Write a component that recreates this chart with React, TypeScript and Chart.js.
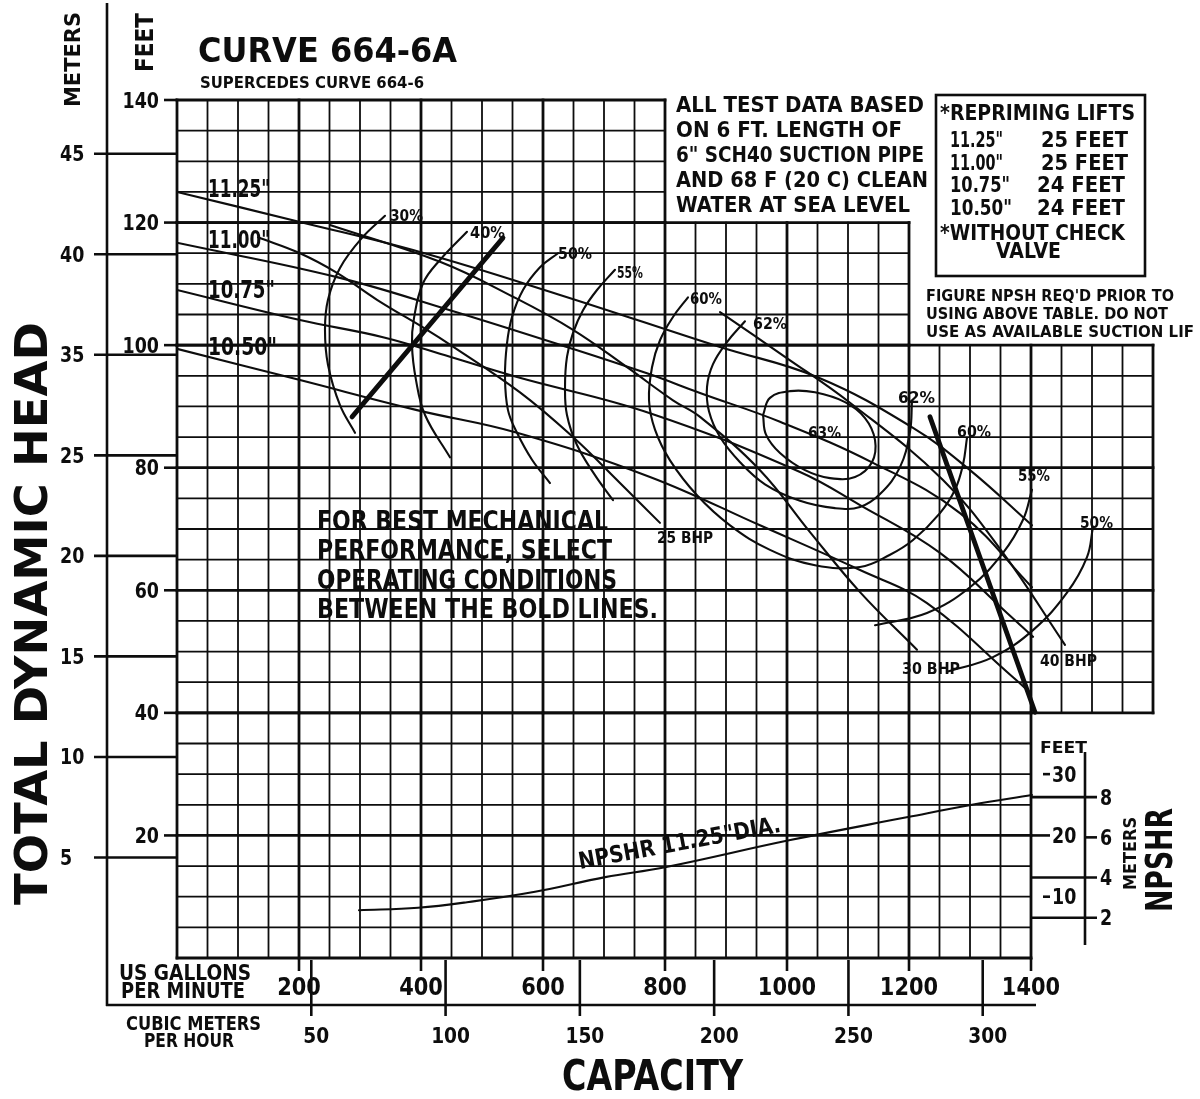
import React, { useEffect, useRef } from "react";
import { Chart, registerables } from "chart.js";

Chart.register(...registerables);

// ---------- axis ticks ----------
const gpmTicks = [200, 400, 600, 800, 1000, 1200, 1400];
const cmhTicks = [50, 100, 150, 200, 250, 300];
const feetTicks = [140, 120, 100, 80, 60, 40, 20];
const meterTickValues = [40, 35, 30, 25, 20, 15, 10, 5];
const meterTickLabels = ["45", "40", "35", "25", "20", "15", "10", "5"];
const npshFeetTicks = [30, 20, 10];
const npshMeterTicks = [8, 6, 4, 2];

// ---------- head curves [GPM, feet] ----------
const head1125: [number, number][] = [[0, 125.0], [201.6, 120.1], [398.4, 115.2], [627.9, 108.2], [890.2, 99.7], [1049.2, 94.8], [1206.6, 86.5], [1300, 79.6], [1401.6, 70.6]];
const head1100: [number, number][] = [[0, 116.7], [262.3, 111.1], [447.5, 105.7], [639.3, 99.7], [770.5, 95.4], [857.4, 92.2], [988.5, 87.5], [1141, 80.8], [1283.6, 72.6], [1401.6, 60.5]];
const head1075: [number, number][] = [[0, 109.0], [201.6, 104.1], [337.7, 101.3], [447.5, 98.1], [557.4, 94.8], [775.4, 88.9], [1021.3, 79.3], [1119.7, 73.9], [1250.8, 66.1], [1360.7, 56.3], [1403.3, 52.4]];
const head1050: [number, number][] = [[0, 99.4], [201.6, 94.3], [393.4, 89.4], [557.4, 85.7], [775.4, 78.5], [955.7, 70.6], [1119.7, 63.3], [1229.5, 57.9], [1370.5, 45.8], [1400, 43.2]];

// ---------- BHP lines ----------
const bhp25: [number, number][] = [[132.8, 117.6], [201.6, 115.0], [262.3, 111.8], [327.9, 107.4], [409.8, 102.5], [447.5, 100.1], [562.3, 92.3], [649.2, 85.0], [726.2, 77.5], [791.8, 71.0]];
const bhp30: [number, number][] = [[250.8, 119.6], [431.1, 113.6], [550.8, 107.9], [649.2, 102.5], [737.7, 96.4], [813.1, 91.0], [857.4, 88.3], [955.7, 79.6], [1037.7, 69.5], [1119.7, 59.7], [1213.1, 50.3]];
const bhp40: [number, number][] = [[890.2, 105.4], [996.7, 98.1], [1103.3, 90.6], [1255.7, 78.0], [1354.1, 66.1], [1455.7, 51.1]];

// ---------- efficiency curves ----------
const eff30: [number, number][] = [[341.0, 121.1], [303.3, 117.5], [267.2, 112.6], [247.5, 107.4], [242.6, 102.5], [247.5, 96.8], [267.2, 90.2], [291.8, 85.7]];
const eff40: [number, number][] = [[475.4, 118.5], [431.1, 113.9], [403.3, 110.1], [388.5, 104.4], [385.2, 100.0], [391.8, 94.3], [406.6, 88.6], [447.5, 81.7]];
const eff50: [number, number][] = [[624.6, 115.0], [595.1, 112.7], [567.2, 109.0], [549.2, 104.6], [541.0, 100.3], [537.7, 94.8], [542.6, 89.4], [557.4, 85.7], [582.0, 81.3], [611.5, 77.5]];
const eff55: [number, number][] = [[718.0, 112.3], [688.5, 109.0], [665.6, 105.7], [649.2, 102.0], [639.3, 98.1], [636.1, 93.2], [639.3, 88.6], [655.7, 83.7], [685.2, 78.8], [714.8, 74.7]];
const eff60: [number, number][] = [[837.7, 107.8], [813.1, 104.6], [791.8, 100.8], [778.7, 96.4], [773.8, 91.0], [783.6, 86.2], [808.2, 81.2], [852.5, 75.5], [906.6, 70.6], [972.1, 66.6], [1045.9, 64.1], [1119.7, 63.8], [1168.9, 65.8], [1206.6, 68.2], [1250.8, 72.6], [1275.4, 76.4], [1288.5, 80.5], [1295.1, 84.9]];
const eff62: [number, number][] = [[931.1, 103.9], [901.6, 100.5], [878.7, 96.9], [868.9, 93.2], [872.1, 89.2], [890.2, 85.0], [923.0, 80.9], [963.9, 77.3], [1021.3, 74.6], [1078.7, 73.4], [1119.7, 73.6], [1152.5, 75.7], [1185.2, 80.1], [1201.6, 85.9], [1204.9, 90.8]];
const eff63: [number, number][] = [[960.7, 88.6], [972.1, 91.4], [1004.9, 92.5], [1045.9, 92.3], [1095.1, 90.7], [1127.9, 88.1], [1144.3, 84.5], [1139.3, 80.9], [1111.5, 78.5], [1070.5, 78.3], [1029.5, 79.6], [988.5, 82.4], [965.6, 85.4], [960.7, 88.6]];
const eff55Right: [number, number][] = [[1144.3, 54.3], [1229.5, 56.3], [1300.0, 60.5], [1354.1, 66.1], [1386.9, 71.5], [1401.6, 76.4]];
const eff50Right: [number, number][] = [[1262.3, 46.7], [1337.7, 49.1], [1403.3, 53.5], [1459.0, 59.6], [1491.8, 65.4], [1501.6, 70.3]];

// ---------- bold operating limits ----------
const boldLeft: [number, number][] = [[286.9, 88.3], [534.4, 117.5]];
const boldRight: [number, number][] = [[1234.4, 88.3], [1406.6, 40.1]];

// ---------- NPSHR ----------
const npshr1125: [number, number][] = [[298.4, 7.8], [395.1, 8.2], [475.4, 9.1], [586.9, 10.8], [702, 13.2], [800, 14.8], [1003.3, 19.2], [1198.4, 23.0], [1303.3, 25.0], [1401.6, 26.6]];

// ---------- texts ----------
const noteLines = ["ALL TEST DATA BASED", "ON 6 FT. LENGTH OF", '6" SCH40 SUCTION PIPE', "AND 68 F (20 C) CLEAN", "WATER AT SEA LEVEL"];
const liftDia = ['11.25"', '11.00"', '10.75"', '10.50"'];
const liftFeet = ["25 FEET", "25 FEET", "24 FEET", "24 FEET"];
const npshNote = ["FIGURE NPSH REQ'D PRIOR TO", "USING ABOVE TABLE. DO NOT", "USE AS AVAILABLE SUCTION LIF"];
const bestNote = ["FOR BEST MECHANICAL", "PERFORMANCE, SELECT", "OPERATING CONDITIONS", "BETWEEN THE BOLD LINES."];

const FT_PER_M = 3.28084;
const GPM_PER_CMH = 4.40287;
const INK = "#0d0d0d";
const FONT = '"DejaVu Sans", "Liberation Sans", sans-serif';

function drawFit(ctx: CanvasRenderingContext2D, s: string, x: number, yb: number, w: number, cap: number, rot = 0, weight = "bold") {
  const size = cap / 0.73;
  ctx.font = `${weight} ${size}px ${FONT}`;
  const mw = ctx.measureText(s).width;
  ctx.save();
  ctx.translate(x, yb);
  if (rot) ctx.rotate(rot);
  ctx.scale(w / mw, 1);
  ctx.textAlign = "left";
  ctx.textBaseline = "alphabetic";
  ctx.fillStyle = INK;
  ctx.fillText(s, 0, 0);
  ctx.restore();
}

function drawNat(ctx: CanvasRenderingContext2D, s: string, x: number, yb: number, cap: number, align: string, sx = 0.85) {
  const size = cap / 0.73;
  ctx.font = `bold ${size}px ${FONT}`;
  const mw = ctx.measureText(s).width * sx;
  const x0 = align === "left" ? x : align === "right" ? x - mw : x - mw / 2;
  drawFit(ctx, s, x0, yb, mw, cap);
}

function seg(ctx: CanvasRenderingContext2D, x0: number, y0: number, x1: number, y1: number, w: number) {
  ctx.lineWidth = w;
  ctx.beginPath();
  ctx.moveTo(x0, y0);
  ctx.lineTo(x1, y1);
  ctx.stroke();
}

const decor = {
  id: "pumpDecor",
  beforeDraw(chart: any) {
    const ctx = chart.ctx;
    ctx.save();
    ctx.fillStyle = "#fff";
    ctx.fillRect(0, 0, chart.width, chart.height);
    ctx.restore();
  },
  beforeDatasetsDraw(chart: any) {
    const ctx: CanvasRenderingContext2D = chart.ctx;
    const xs = chart.scales.x, ys = chart.scales.y;
    const X = (v: number) => xs.getPixelForValue(v);
    const Y = (v: number) => ys.getPixelForValue(v);
    ctx.save();
    ctx.strokeStyle = INK;
    ctx.lineCap = "square";
    const regions = [[0, 800, 120, 140], [0, 1200, 100, 120], [0, 1600, 40, 100], [0, 1400, 0, 40]];
    for (const [x0, x1, y0, y1] of regions) {
      for (let g = x0; g <= x1; g += 50) seg(ctx, X(g), Y(y0), X(g), Y(y1), g % 200 === 0 ? 2.8 : 1.8);
      for (let h = y0; h <= y1; h += 5) seg(ctx, X(x0), Y(h), X(x1), Y(h), h % 20 === 0 ? 2.8 : 1.8);
    }
    ctx.lineCap = "butt";
    // outer frame (left axis line + bottom box line)
    seg(ctx, 107, 3, 107, 1006, 2.6);
    seg(ctx, 106, 1005, X(1400) + 5, 1005, 2.6);
    // meter ticks
    meterTickValues.forEach((m) => {
      const y = Y(m * FT_PER_M);
      seg(ctx, 94, y, X(0), y, 2.6);
    });
    // feet ticks
    feetTicks.forEach((f) => seg(ctx, 164, Y(f), X(0), Y(f), 2.6));
    // GPM ticks
    gpmTicks.forEach((g) => seg(ctx, X(g), Y(0), X(g), Y(0) + 13, 2.6));
    // m3/h ticks
    cmhTicks.forEach((c) => {
      const x = X(c * GPM_PER_CMH);
      seg(ctx, x, Y(0) + 2, x, 1016, 2.6);
    });
    // NPSHR axis
    const xr = X(1400);
    seg(ctx, 1085, 752, 1085, 945, 2.6);
    npshFeetTicks.forEach((f) => {
      const y = Y(f);
      seg(ctx, f === 20 ? xr : 1043, y, 1050, y, 2.6);
    });
    npshMeterTicks.forEach((m) => {
      const y = Y(m * FT_PER_M);
      seg(ctx, m === 6 ? 1085 : xr, y, 1097, y, 2.6);
    });
    // repriming box
    ctx.lineWidth = 2.6;
    ctx.strokeRect(936, 95, 209, 181);
    ctx.restore();
  },
  afterDatasetsDraw(chart: any) {
    const ctx: CanvasRenderingContext2D = chart.ctx;
    const xs = chart.scales.x, ys = chart.scales.y;
    const X = (v: number) => xs.getPixelForValue(v);
    const Y = (v: number) => ys.getPixelForValue(v);
    ctx.save();
    const up = -Math.PI / 2;
    // titles
    drawFit(ctx, "CURVE 664-6A", 198, 62, 259, 25);
    drawFit(ctx, "SUPERCEDES CURVE 664-6", 200, 88, 224, 12);
    drawFit(ctx, "METERS", 80, 107, 95, 15, up);
    drawFit(ctx, "FEET", 153, 72, 59, 18, up);
    drawFit(ctx, "TOTAL DYNAMIC HEAD", 47, 905, 583, 32, up);
    drawFit(ctx, "CAPACITY", 562, 1090, 181, 31);
    drawFit(ctx, "US GALLONS", 119, 980, 132, 15);
    drawFit(ctx, "PER MINUTE", 121, 998, 124, 15);
    drawFit(ctx, "CUBIC METERS", 126, 1030, 135, 14);
    drawFit(ctx, "PER HOUR", 144, 1047, 90, 14);
    // tick labels
    meterTickValues.forEach((m, i) => drawNat(ctx, meterTickLabels[i], 60, Y(m * FT_PER_M) + 7.5, 15, "left"));
    feetTicks.forEach((f) => drawNat(ctx, String(f), 159, Y(f) + 7.5, 15, "right"));
    gpmTicks.forEach((g) => drawNat(ctx, String(g), X(g), 995, 18, "center"));
    cmhTicks.forEach((c) => drawNat(ctx, String(c), X(c * GPM_PER_CMH) + 5, 1043, 16, "center"));
    npshFeetTicks.forEach((f) => drawNat(ctx, String(f), 1052, Y(f) + 7.5, 15, "left"));
    npshMeterTicks.forEach((m) => drawNat(ctx, String(m), 1100, Y(m * FT_PER_M) + 7.5, 15, "left"));
    drawFit(ctx, "FEET", 1040, 753, 47, 12);
    drawFit(ctx, "METERS", 1136, 890, 73, 13, up);
    drawFit(ctx, "NPSHR", 1172, 912, 104, 27, up);
    // curve labels
    drawFit(ctx, '11.25"', 208, 197, 62, 18);
    drawFit(ctx, '11.00"', 208, 248, 62, 18);
    drawFit(ctx, '10.75"', 208, 298, 67, 18);
    drawFit(ctx, '10.50"', 208, 355, 69, 18);
    const pct: [string, number, number, number][] = [
      ["30%", 390, 423, 221], ["40%", 470, 505, 238], ["50%", 558, 592, 259], ["55%", 617, 643, 278],
      ["60%", 690, 722, 304], ["62%", 753, 787, 329], ["63%", 808, 841, 438], ["62%", 898, 935, 403],
      ["60%", 957, 991, 437], ["55%", 1018, 1050, 481], ["50%", 1080, 1113, 528],
      ["25 BHP", 657, 713, 543], ["30 BHP", 902, 960, 674], ["40 BHP", 1040, 1097, 666],
    ];
    pct.forEach(([s, a, b, yb]) => drawFit(ctx, s, a, yb, b - a, 12));
    drawFit(ctx, 'NPSHR 11.25"DIA.', 580, 869, 205, 17, -0.183);
    // notes
    const noteW = [248, 226, 248, 252, 234];
    noteLines.forEach((s, i) => drawFit(ctx, s, 676, 112 + i * 25, noteW[i], 16));
    drawFit(ctx, "*REPRIMING LIFTS", 940, 120, 195, 15);
    liftDia.forEach((s, i) => {
      const yb = [147, 170, 192, 215][i];
      drawFit(ctx, s, 950, yb, [53, 53, 60, 62][i], 15);
      drawFit(ctx, liftFeet[i], i < 2 ? 1041 : 1037, yb, i < 2 ? 87 : 88, 15);
    });
    drawFit(ctx, "*WITHOUT CHECK", 940, 240, 185, 15);
    drawFit(ctx, "VALVE", 996, 258, 65, 15);
    const nW = [248, 242, 268];
    npshNote.forEach((s, i) => drawFit(ctx, s, 926, 301 + i * 18, nW[i], 12));
    const bW = [291, 295, 300, 341];
    bestNote.forEach((s, i) => drawFit(ctx, s, 317, 530 + i * 29.3, bW[i], 20));
    ctx.restore();
  },
};

const curve = (pts: [number, number][], w = 2.1, t = 0.4) => ({
  data: pts.map(([x, y]) => ({ x, y })),
  borderColor: INK,
  borderWidth: w,
  pointRadius: 0,
  tension: t,
  fill: false,
  borderCapStyle: "round" as const,
  borderJoinStyle: "round" as const,
});

export default function App() {
  const ref = useRef<HTMLCanvasElement>(null);
  useEffect(() => {
    if (!ref.current) return;
    const chart = new Chart(ref.current, {
      type: "line",
      data: {
        datasets: [
          curve(head1125), curve(head1100), curve(head1075), curve(head1050),
          curve(bhp25), curve(bhp30), curve(bhp40),
          curve(eff30), curve(eff40), curve(eff50), curve(eff55), curve(eff60), curve(eff62), curve(eff63),
          curve(eff55Right), curve(eff50Right),
          curve(npshr1125),
          curve(boldLeft, 4.8, 0), curve(boldRight, 4.8, 0),
        ] as any,
      },
      options: {
        animation: false,
        responsive: false,
        events: [],
        layout: { padding: { left: 177, right: 47, top: 100, bottom: 141 } },
        plugins: { legend: { display: false }, tooltip: { enabled: false } },
        scales: {
          x: { type: "linear", min: 0, max: 1600, display: false },
          y: { type: "linear", min: 0, max: 140, display: false },
        },
      },
      plugins: [decor],
    });
    return () => chart.destroy();
  }, []);
  return (
    <div style={{ position: "absolute", left: 0, top: 0, width: 1200, height: 1099, background: "#fff" }}>
      <canvas ref={ref} width={1200} height={1099} style={{ width: 1200, height: 1099, display: "block" }} />
    </div>
  );
}
